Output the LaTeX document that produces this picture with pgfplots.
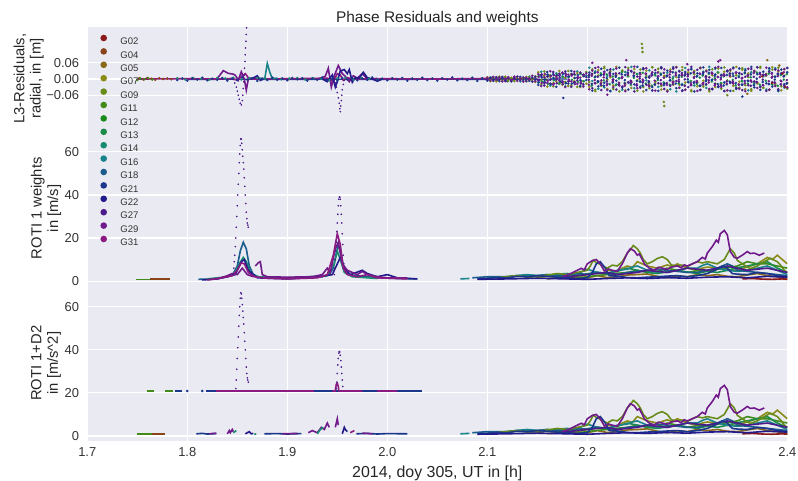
\documentclass[border=0pt]{standalone}
\usepackage{pgfplots}
\usepackage{pgfplotstable}
\pgfplotsset{compat=1.18}
\usepackage{fontspec}
\setmainfont{Liberation Sans}
\definecolor{bgc}{HTML}{EAEAF2}
\definecolor{c02}{RGB}{139,26,26}
\definecolor{c04}{RGB}{139,69,26}
\definecolor{c05}{RGB}{139,105,26}
\definecolor{c07}{RGB}{139,139,26}
\definecolor{c09}{RGB}{105,139,26}
\definecolor{c11}{RGB}{66,139,26}
\definecolor{c12}{RGB}{26,139,26}
\definecolor{c13}{RGB}{26,139,74}
\definecolor{c14}{RGB}{26,139,115}
\definecolor{c16}{RGB}{26,130,139}
\definecolor{c18}{RGB}{26,92,139}
\definecolor{c21}{RGB}{26,55,139}
\definecolor{c22}{RGB}{35,26,139}
\definecolor{c27}{RGB}{75,26,139}
\definecolor{c29}{RGB}{112,26,139}
\definecolor{c31}{RGB}{139,26,130}

\pgfplotstableread{
x p29 b21 g09 t16 o07 m27
2.100 0.004 -0.006 0.002 -0.003 0.007 -0.001
2.103 -0.005 0.003 -0.008 0.006 -0.002 0.004
2.106 0.008 -0.001 0.005 -0.007 0.003 -0.006
2.109 -0.002 0.007 -0.004 0.001 -0.009 0.005
2.112 0.006 -0.008 0.009 -0.003 0.004 -0.002
2.115 -0.009 0.002 -0.001 0.008 -0.006 0.007
2.118 0.001 -0.005 0.006 -0.004 0.009 -0.008
2.121 0.007 0.004 -0.007 0.002 -0.003 0.003
2.124 -0.004 -0.009 0.003 -0.006 0.005 -0.005
2.127 0.009 0.006 -0.005 0.007 -0.008 0.001
2.130 -0.007 -0.002 0.008 -0.001 0.002 0.009
2.133 0.003 0.008 -0.002 -0.009 0.006 -0.004
2.136 -0.010 -0.004 0.004 0.005 -0.001 0.006
2.139 0.005 0.001 -0.009 -0.002 0.008 -0.007
2.142 -0.001 -0.007 0.007 0.009 -0.005 0.002
2.145 0.012 0.005 -0.003 -0.008 0.003 -0.010
2.148 -0.008 -0.003 0.010 0.004 -0.011 0.008
2.151 0.018 -0.022 0.009 -0.013 0.025 -0.006
2.154 -0.026 0.011 -0.019 0.027 -0.004 0.015
2.157 0.007 -0.015 0.028 -0.009 0.013 -0.024
2.160 -0.014 0.026 -0.005 0.016 -0.028 0.010
2.163 0.029 -0.003 0.014 -0.024 0.008 -0.017
2.166 -0.021 0.018 -0.027 0.004 -0.015 0.026
2.169 0.011 -0.029 0.006 0.021 -0.010 -0.003
2.172 -0.005 0.013 -0.016 -0.018 0.030 0.020
2.175 0.024 -0.008 0.022 0.010 -0.021 -0.013
2.178 -0.030 0.021 -0.011 -0.027 0.005 0.028
2.181 0.016 -0.017 0.030 0.007 -0.026 -0.009
2.184 -0.009 0.030 -0.024 0.019 0.017 -0.029
2.187 0.027 -0.012 0.003 -0.015 -0.008 0.018
2.190 -0.018 0.005 -0.029 0.028 0.022 -0.005
2.193 0.005 -0.026 0.019 -0.004 -0.030 0.024
2.196 -0.028 0.016 -0.008 -0.022 0.011 -0.019
2.199 0.021 -0.004 0.026 0.013 -0.017 0.007
2.202 -0.038 0.024 -0.011 0.042 -0.029 0.015
2.205 0.031 -0.043 0.036 -0.007 0.019 -0.034
2.208 -0.016 0.009 -0.040 0.028 -0.045 0.041
2.211 0.044 -0.027 0.013 -0.036 0.033 -0.008
2.214 -0.005 0.038 -0.025 0.017 -0.012 -0.041
2.217 0.022 -0.014 0.045 -0.031 0.040 0.027
2.220 -0.041 0.033 -0.003 0.011 -0.037 -0.018
2.223 0.012 -0.045 0.029 -0.044 0.006 0.036
2.226 -0.030 0.019 -0.037 0.035 -0.024 -0.002
2.229 0.039 -0.006 0.016 -0.020 0.045 -0.039
2.232 -0.024 0.042 -0.046 0.003 -0.015 0.021
2.235 0.007 -0.032 0.032 -0.040 0.028 -0.028
2.238 -0.045 0.015 -0.019 0.026 -0.042 0.044
2.241 0.033 -0.039 0.041 -0.012 0.010 -0.013
2.244 -0.013 0.028 -0.008 0.045 -0.033 0.030
2.247 0.046 -0.020 0.024 -0.034 0.037 -0.046
2.250 -0.034 0.045 -0.043 0.019 -0.004 0.009
2.253 0.018 -0.009 0.035 -0.027 0.022 -0.032
2.256 -0.006 0.036 -0.030 0.040 -0.046 0.039
2.259 0.040 -0.041 0.011 -0.005 0.031 -0.021
2.262 -0.027 0.010 -0.034 0.032 -0.018 0.005
2.265 0.025 -0.030 0.044 -0.043 0.043 -0.042
2.268 -0.043 0.022 -0.015 0.014 -0.009 0.033
2.271 0.010 -0.044 0.038 -0.029 0.026 -0.016
2.274 -0.019 0.040 -0.026 0.044 -0.039 0.043
2.277 0.036 -0.017 0.006 -0.016 0.012 -0.037
2.280 -0.046 0.031 -0.042 0.023 -0.044 0.012
2.283 0.028 -0.005 0.027 -0.038 0.035 -0.025
2.286 -0.011 0.044 -0.009 0.008 -0.021 0.038
2.289 0.043 -0.034 0.045 -0.046 0.007 -0.007
2.292 -0.032 0.014 -0.021 0.030 -0.033 0.028
2.295 0.015 -0.042 0.033 -0.019 0.044 -0.044
2.298 -0.040 0.026 -0.039 0.041 -0.013 0.019
2.301 0.034 -0.012 0.017 -0.010 0.025 -0.030
2.304 -0.022 0.037 -0.045 0.036 -0.041 0.045
2.307 0.008 -0.046 0.030 -0.024 0.018 -0.011
2.310 -0.044 0.021 -0.012 0.012 -0.027 0.034
2.313 0.041 -0.025 0.042 -0.041 0.040 -0.040
2.316 -0.015 0.043 -0.028 0.027 -0.006 0.024
2.319 0.029 -0.003 0.009 -0.033 0.032 -0.019
2.322 -0.037 0.034 -0.041 0.045 -0.046 0.006
2.325 0.020 -0.038 0.036 -0.002 0.014 -0.036
2.328 -0.003 0.017 -0.017 0.038 -0.030 0.042
2.331 0.045 -0.029 0.023 -0.030 0.039 -0.027
2.334 -0.029 0.041 -0.036 0.016 -0.016 0.013
2.337 0.013 -0.013 0.043 -0.044 0.027 -0.045
2.340 -0.042 0.028 -0.005 0.031 -0.043 0.031
2.343 0.035 -0.044 0.031 -0.014 0.009 -0.014
2.346 -0.017 0.011 -0.044 0.043 -0.025 0.040
2.349 0.024 -0.035 0.014 -0.037 0.045 -0.033
2.352 -0.036 0.039 -0.032 0.020 -0.010 0.022
2.355 0.004 -0.021 0.040 -0.008 0.034 -0.041
2.358 -0.045 0.032 -0.023 0.037 -0.038 0.008
2.361 0.038 -0.007 0.007 -0.042 0.021 -0.023
2.364 -0.010 0.045 -0.038 0.025 -0.044 0.037
2.367 0.030 -0.031 0.028 -0.018 0.030 -0.009
2.370 -0.033 0.018 -0.014 0.044 -0.017 0.043
2.373 0.017 -0.040 0.045 -0.028 0.041 -0.030
2.376 -0.023 0.027 -0.033 0.010 -0.032 0.016
2.379 0.042 -0.016 0.019 -0.039 0.013 -0.044
2.382 -0.039 0.040 -0.040 0.033 -0.040 0.027
2.385 0.009 -0.028 0.035 -0.021 0.044 -0.012
2.388 -0.026 0.008 -0.018 0.040 -0.023 0.035
2.391 0.032 -0.043 0.042 -0.045 0.028 -0.038
2.394 -0.008 0.035 -0.027 0.022 -0.042 0.020
2.397 0.037 -0.019 0.012 -0.032 0.036 -0.025
2.400 -0.031 0.025 -0.036 0.041 -0.015 0.041
}\resid

\pgfplotstableread{
x a b c d
2.1515 0.008 -0.012 0.015 -0.004
2.1545 -0.014 0.006 -0.009 0.017
2.1575 0.019 -0.003 0.004 -0.013
2.1605 -0.006 0.016 -0.018 0.009
2.1635 0.011 -0.019 0.012 -0.001
2.1665 -0.017 0.002 -0.005 0.014
2.1695 0.003 0.013 0.018 -0.016
2.1725 0.015 -0.008 -0.013 0.006
2.1755 -0.010 0.019 0.007 -0.019
2.1785 0.018 -0.015 -0.016 0.011
2.1815 -0.002 0.009 0.010 -0.007
2.1845 0.013 -0.017 -0.003 0.018
2.1875 -0.019 0.004 0.016 -0.012
2.1905 0.007 0.015 -0.011 0.003
2.1935 -0.012 -0.006 0.019 -0.017
2.1965 0.016 0.011 -0.008 0.013
2.2015 -0.021 0.007 0.014 -0.003
2.2045 0.012 -0.018 -0.024 0.019
2.2075 -0.004 0.023 0.006 -0.015
2.2105 0.025 -0.009 -0.012 0.008
2.2135 -0.016 0.014 0.021 -0.022
2.2165 0.006 -0.025 -0.005 0.016
2.2195 -0.023 0.003 0.017 -0.009
2.2225 0.018 0.020 -0.019 0.024
2.2255 -0.008 -0.013 0.009 -0.002
2.2285 0.021 0.008 -0.023 0.012
2.2315 -0.014 -0.021 0.002 -0.020
2.2345 0.003 0.017 0.025 0.005
2.2375 -0.025 -0.004 -0.014 -0.017
2.2405 0.016 0.024 0.011 0.021
2.2435 -0.010 -0.016 -0.022 -0.006
2.2465 0.023 0.011 0.004 0.013
2.2495 -0.019 -0.007 0.018 -0.024
2.2525 0.009 0.022 -0.010 0.002
2.2555 -0.002 -0.024 0.023 -0.013
2.2585 0.020 0.005 -0.017 0.019
2.2615 -0.024 -0.012 0.007 -0.008
2.2645 0.013 0.019 -0.025 0.016
2.2675 -0.006 -0.020 0.015 -0.021
2.2705 0.024 0.002 -0.004 0.009
2.2735 -0.017 0.016 0.020 -0.004
2.2765 0.005 -0.023 -0.013 0.023
2.2795 -0.022 0.010 0.012 -0.015
2.2825 0.017 -0.005 -0.021 0.006
2.2855 -0.011 0.025 0.001 -0.019
2.2885 0.022 -0.017 0.024 0.014
2.2915 -0.003 0.006 -0.016 -0.010
2.2945 0.014 -0.022 0.008 0.022
2.2975 -0.025 0.013 -0.024 -0.001
2.3005 0.010 -0.001 0.016 0.017
2.3035 -0.015 0.021 -0.007 -0.023
2.3065 0.025 -0.014 0.022 0.004
2.3095 -0.007 0.009 -0.018 -0.012
2.3125 0.019 -0.025 0.005 0.020
2.3155 -0.020 0.018 0.013 -0.016
2.3185 0.004 -0.008 -0.022 0.010
2.3215 -0.013 0.023 0.019 -0.005
2.3245 0.021 -0.003 -0.009 0.024
2.3275 -0.024 0.012 0.003 -0.018
2.3305 0.008 -0.019 0.025 0.007
2.3335 -0.001 0.004 -0.015 -0.022
2.3365 0.018 -0.024 0.010 0.015
2.3395 -0.018 0.015 -0.020 -0.009
2.3425 0.012 -0.010 0.017 0.021
2.3455 -0.009 0.020 -0.003 -0.014
2.3485 0.024 -0.015 -0.024 0.003
2.3515 -0.021 0.007 0.011 -0.020
2.3545 0.002 -0.021 -0.008 0.018
2.3575 -0.016 0.024 0.021 -0.007
2.3605 0.015 -0.006 -0.017 0.012
2.3635 -0.005 0.017 0.006 -0.025
2.3665 0.022 -0.023 -0.012 0.008
2.3695 -0.012 0.001 0.024 -0.011
2.3725 0.007 0.019 -0.021 0.023
2.3755 -0.023 -0.011 0.014 -0.002
2.3785 0.016 0.014 -0.006 0.016
2.3815 -0.008 -0.018 0.020 -0.019
2.3845 0.020 0.022 -0.019 0.005
2.3875 -0.014 -0.002 0.009 -0.013
2.3905 0.011 0.016 -0.025 0.020
2.3935 -0.019 -0.020 0.015 -0.006
2.3965 0.025 0.010 -0.002 0.011
2.3995 -0.004 -0.016 0.018 -0.017
}\residcore

\pgfplotsset{
  panel/.style={
    scale only axis, width=700bp, anchor=south west,
    xmin=1.7, xmax=2.4,
    axis background/.style={fill=bgc},
    axis line style={draw=none},
    tick style={draw=none},
    xmajorgrids, ymajorgrids,
    grid style={white, line width=1.1bp},
    xtick={1.7,1.8,1.9,2.0,2.1,2.2,2.3,2.4},
    tick label style={font=\fontsize{13}{15}\selectfont, text=black!80},
    yticklabel style={inner sep=0pt, xshift=-8bp},
    xticklabel style={inner sep=0pt, yshift=-7bp},
    ylabel style={align=center, font=\fontsize{14.8}{16.5}\selectfont, text=black!85, anchor=center},
    clip=true,
  },
  lw/.style={line width=1.6bp, forget plot},
  dots/.style={only marks, mark=*, mark size=1.05bp, forget plot},
  dotsp/.style={only marks, mark=*, mark size=0.6bp, forget plot},
}

\newcommand{\rightlines}{
\addplot[c16,lw] coordinates {(2.073,1)(2.082,1.2)};
\addplot[c05,lw] coordinates {(2.16,1)(2.17,1.6)(2.18,1.2)(2.19,1.8)(2.20,1.5)(2.21,2.5)(2.22,1.6)(2.23,2)(2.24,2.8)(2.25,3)(2.26,3.3)(2.27,2.2)(2.28,1.5)(2.29,2.4)(2.30,2)(2.31,3)(2.32,2.5)(2.33,3)(2.34,2.2)(2.35,2)(2.36,2.8)(2.37,3.5)(2.38,2.5)(2.39,2)(2.40,1)};
\addplot[c02,lw] coordinates {(2.355,1)(2.365,1.2)(2.375,0.9)(2.385,0.8)(2.395,1)(2.40,0.8)};
\addplot[c07,lw] coordinates {(2.15,1.5)(2.16,2.2)(2.17,2)(2.18,2.5)(2.19,2.1)(2.20,3)(2.21,4)(2.215,3.4)(2.22,5)(2.23,4.5)(2.235,6)(2.24,7)(2.245,6.3)(2.25,9)(2.255,8)(2.26,7)(2.27,6)(2.28,7.5)(2.285,6.6)(2.29,8)(2.30,6)(2.31,5)(2.315,6)(2.32,6.5)(2.33,6)(2.34,5)(2.35,5)(2.355,5.8)(2.36,6.5)(2.37,8)(2.375,9.5)(2.38,11)(2.385,10)(2.39,12)(2.395,10)(2.40,8)};
\addplot[c11,lw] coordinates {(2.19,1.5)(2.20,2)(2.21,2.6)(2.22,3)(2.23,3.6)(2.24,4)(2.25,5)(2.26,4.2)(2.27,4.5)(2.28,6)(2.29,5)(2.30,4)(2.31,4.8)(2.32,4.5)(2.33,5.5)(2.34,6.2)(2.35,7)(2.355,8)(2.36,9)(2.37,8)(2.38,8)(2.39,7)(2.40,6)};
\addplot[c13,lw] coordinates {(2.13,2)(2.14,2.8)(2.15,2.5)(2.16,3)(2.17,2.2)(2.18,2.5)(2.19,2.5)(2.20,3.4)(2.21,4)(2.22,3.6)(2.23,4.5)(2.24,6)(2.25,5)(2.26,4)(2.27,3.5)(2.28,4.3)(2.29,5)(2.30,4.2)(2.31,3.5)(2.32,4.6)(2.33,4)(2.34,5)(2.35,6.2)(2.36,7)(2.37,8)(2.38,9)(2.39,6)(2.40,4)};
\addplot[c16,lw] coordinates {(2.10,1.5)(2.11,1.8)(2.12,2)(2.13,2.6)(2.14,3)(2.15,2.5)(2.16,2.5)(2.17,3.2)(2.18,3.5)(2.19,3)(2.195,4.5)(2.20,5.5)(2.21,4)(2.22,3.5)(2.23,5)(2.24,5.5)(2.245,6.5)(2.25,7)(2.26,5)(2.27,4)(2.28,4)(2.29,5)(2.30,6)(2.31,6)(2.315,7.2)(2.32,8)(2.33,6)(2.34,5)(2.35,4.5)(2.36,5)(2.37,6)(2.38,7)(2.39,5)(2.40,3)};
\addplot[c18,lw] coordinates {(2.085,1.5)(2.10,2)(2.12,2)(2.13,2.5)(2.14,2.1)(2.15,2.5)(2.16,3)(2.17,2.6)(2.18,3)(2.19,3.5)(2.20,3.1)(2.21,4)(2.22,3.5)(2.23,3)(2.24,4)(2.25,4.5)(2.26,5)(2.27,5.5)(2.28,5)(2.29,4.5)(2.30,4)(2.31,4)(2.32,5)(2.33,6)(2.34,8)(2.345,7)(2.35,5)(2.36,4.5)(2.37,4)(2.38,3.5)(2.39,3)(2.40,2.5)};
\addplot[c09,lw] coordinates {(2.11,1.5)(2.12,2.1)(2.13,2.5)(2.14,1.8)(2.15,2)(2.16,2.8)(2.17,3.5)(2.18,3)(2.19,4)(2.20,5)(2.203,7)(2.206,9.7)(2.209,8.6)(2.212,8)(2.216,6.8)(2.22,6)(2.225,7.4)(2.23,7)(2.235,9)(2.24,13)(2.243,14.5)(2.246,16.5)(2.25,15)(2.253,13)(2.256,10)(2.26,8)(2.265,9)(2.27,10.5)(2.275,11.3)(2.28,10)(2.284,7.5)(2.29,7)(2.295,7.4)(2.30,6.7)(2.305,8)(2.31,9)(2.315,8.4)(2.32,9)(2.325,8.5)(2.33,8)(2.337,10)(2.34,12.5)(2.343,15)(2.347,13)(2.35,9.6)(2.355,8)(2.36,6.5)(2.363,5.8)(2.37,7)(2.377,9)(2.383,10.6)(2.39,9)(2.394,7)(2.397,5)(2.40,4)};
\addplot[c27,lw] coordinates {(2.17,1.5)(2.18,2)(2.19,2.5)(2.20,3)(2.21,3.5)(2.22,4)(2.23,3)(2.24,3.5)(2.25,4)(2.26,5)(2.27,4.5)(2.28,4)(2.29,5)(2.30,6)(2.31,5.5)(2.32,5)(2.33,6)(2.34,7)(2.35,6)(2.36,5)(2.37,5.5)(2.38,6)(2.39,5)(2.40,4)};
\addplot[c21,lw] coordinates {(2.09,1)(2.10,1.2)(2.11,1.6)(2.12,1.5)(2.13,2.2)(2.14,2)(2.15,2.5)(2.16,2.2)(2.17,1.8)(2.18,1.5)(2.19,1.2)(2.20,1.5)(2.205,4)(2.209,8)(2.213,9)(2.218,6)(2.222,2.5)(2.23,2.3)(2.235,2)(2.24,1.6)(2.25,1.5)(2.26,1.8)(2.27,2)(2.28,2.3)(2.29,2.5)(2.30,2)(2.31,2.5)(2.32,3.5)(2.33,5.5)(2.335,7)(2.34,6)(2.345,3.5)(2.35,3.2)(2.36,3)(2.37,4)(2.38,3.5)(2.39,2.5)(2.40,2)};
\addplot[c22,lw] coordinates {(2.09,0.8)(2.12,1)(2.15,1.3)(2.18,1)(2.20,0.8)(2.22,1.2)(2.24,1.5)(2.26,1.2)(2.28,1.6)(2.30,1.3)(2.32,1.8)(2.34,2)(2.36,1.5)(2.38,2.2)(2.40,1.8)};
\addplot[c29,lw] coordinates {(2.175,2)(2.18,2.8)(2.184,3.6)(2.19,5)(2.194,5.9)(2.197,5.2)(2.20,8)(2.205,9.5)(2.209,10)(2.213,8)(2.217,4.7)(2.221,5.6)(2.225,5)(2.230,4.5)(2.235,8)(2.240,13)(2.243,15)(2.247,14)(2.25,12)(2.252,12.6)(2.255,10)(2.257,8)(2.262,6)(2.267,5)(2.271,6.4)(2.275,6)(2.28,5.4)(2.284,6.5)(2.29,7)(2.294,6.2)(2.297,7.5)(2.30,7)(2.305,8)(2.31,9)(2.315,11)(2.318,10.2)(2.32,13)(2.325,16)(2.329,19)(2.331,18)(2.333,22)(2.337,23.5)(2.340,21.5)(2.343,13.7)(2.347,11)(2.35,10.6)(2.355,12)(2.36,13.7)(2.363,12.8)(2.367,13)(2.372,12)(2.377,13)};
}

\begin{document}
\begin{tikzpicture}
\useasboundingbox (0,0) rectangle (798bp,481bp);

% ---------------- bottom panel ----------------
\begin{axis}[panel, at={(87.3bp,40.3bp)}, height=155bp,
  ymin=-2.2, ymax=69.8,
  ytick={0,20,40,60}, yticklabels={0,20,40,60},
  xticklabels={1.7,1.8,1.9,2.0,2.1,2.2,2.3,2.4},
  ylabel={ROTI 1+D2\\in [m/s\^{}2]},
  ylabel style={at={(axis description cs:-0.059,0.5)}},
  xlabel={2014, doy 305, UT in [h]},
  xlabel style={font=\fontsize{16}{18}\selectfont, text=black!85, anchor=base, at={(axis description cs:0.5,0)}, yshift=-37bp},
]
\addplot[c11,lw] coordinates {(1.750,0.8)(1.765,0.8)};
\addplot[c04,lw] coordinates {(1.765,0.9)(1.778,0.9)};
\addplot[c21,lw] coordinates {(1.809,1)(1.815,1.2)(1.820,0.9)(1.829,1.1)};
\addplot[c29,lw] coordinates {(1.822,1)(1.829,1.3)};
\addplot[c29,lw] coordinates {(1.840,1)(1.842,2.5)(1.843,1.5)(1.845,3)(1.846,2)};
\addplot[c14,lw] coordinates {(1.846,1.5)(1.849,2.5)};
\addplot[c22,lw] coordinates {(1.858,1)(1.862,2)(1.864,1)(1.866,1.2)};
\addplot[c14,lw] coordinates {(1.867,1)(1.869,0.8)};
\addplot[c21,lw] coordinates {(1.877,1)(1.890,1.1)(1.900,0.9)(1.914,1.1)};
\addplot[c29,lw] coordinates {(1.895,1)(1.910,1.2)};
\addplot[c29,lw] coordinates {(1.921,1.5)(1.925,2.5)(1.930,1.5)(1.934,4)(1.937,3)(1.940,6)(1.942,4)};
\addplot[c14,lw] coordinates {(1.930,1)(1.933,3)(1.936,4)};
\addplot[c29,lw] coordinates {(1.948,4)(1.950,8)(1.951,5)};
\addplot[c22,lw] coordinates {(1.955,1)(1.957,4)(1.958,3)(1.960,2)};
\addplot[c31,lw] coordinates {(1.963,1.5)(1.967,2.5)};
\addplot[c21,lw] coordinates {(1.969,1)(1.980,1.2)(1.990,0.9)(2.000,1.1)(2.020,1)};
\addplot[c29,lw] coordinates {(1.975,1.3)(1.985,1)};
\addplot[c11,lw] coordinates {(1.7594,20.9)(1.7667,20.9)};
\addplot[c11,lw] coordinates {(1.7777,20.9)(1.7854,20.9)};
\addplot[c21,lw] coordinates {(1.7877,20.9)(1.7944,20.9)};
\addplot[c21,dots] coordinates {(1.800,20.9)(1.815,20.9)};
\addplot[c21,lw] coordinates {(1.819,20.9)(2.035,20.9)};
\addplot[c31,lw] coordinates {(1.829,20.9)(1.927,20.9)};
\addplot[c31,lw] coordinates {(1.945,20.9)(1.948,20.9)(1.9485,22.5)(1.949,24)(1.950,24.5)(1.951,23)(1.9515,21)(1.952,20.9)(1.975,20.9)};
\addplot[c31,lw] coordinates {(1.990,20.9)(2.010,20.9)};
\addplot[c27,dotsp] coordinates {(1.8485,22)(1.849,26)(1.8495,31)(1.850,36)(1.8505,41)(1.851,46)(1.8515,51)(1.852,56)(1.8525,60)(1.853,64)(1.8535,66.5)(1.854,66)(1.8545,64)(1.855,61)(1.8555,58)(1.856,55)(1.8565,52)(1.857,48)(1.8575,44)(1.858,40)(1.8585,36)(1.859,32)(1.8595,29)(1.860,27)(1.8605,26)(1.861,25)};
\addplot[c27,dotsp] coordinates {(1.949,22)(1.9495,25)(1.950,29)(1.9505,33)(1.951,36)(1.9515,38.5)(1.952,39.2)(1.9525,39)(1.953,37.5)(1.9535,35)(1.954,32)(1.9545,29)(1.955,26)(1.9555,23)};
\rightlines
\end{axis}

% ---------------- middle panel ----------------
\begin{axis}[panel, at={(87.3bp,195.2bp)}, height=155bp,
  ymin=-2.2, ymax=69.8,
  ytick={0,20,40,60}, yticklabels={0,20,40,60},
  xticklabels={,,,,,,,},
  ylabel={ROTI 1 weights\\in [m/s]},
  ylabel style={at={(axis description cs:-0.059,0.5)}},
]
\addplot[c11,lw] coordinates {(1.749,0.8)(1.763,0.8)};
\addplot[c04,lw] coordinates {(1.763,0.9)(1.783,0.9)};
\addplot[c18,lw] coordinates {(1.811,0.8)(1.825,1.0)(1.835,1.5)(1.842,2.5)(1.846,3.5)(1.850,7)(1.853,14)(1.856,18)(1.859,15)(1.862,7)(1.866,3)(1.872,1.8)(1.885,1.5)(1.900,1.2)(1.920,1.5)(1.935,2)(1.942,3)(1.946,6)(1.949,13)(1.951,17)(1.954,12)(1.957,5)(1.962,3)(1.970,2.5)(1.980,2)(1.990,1.5)(2.010,1.2)(2.030,1)};
\addplot[c14,lw] coordinates {(1.820,1)(1.840,2)(1.848,4)(1.852,8)(1.856,11)(1.859,9)(1.863,4)(1.870,2)(1.900,1.5)(1.940,2.5)(1.947,8)(1.950,14)(1.953,10)(1.957,4)(1.965,2)(1.990,1.2)};
\addplot[c22,lw] coordinates {(1.815,0.5)(1.830,1)(1.840,2)(1.848,3)(1.850,5)(1.854,9)(1.857,10)(1.861,5)(1.870,1.5)(1.900,1)(1.930,1.8)(1.945,3)(1.950,8)(1.953,11)(1.957,6)(1.963,3)(1.975,5)(1.980,3.5)(1.990,2)(2.000,3)(2.010,1.5)(2.030,1)};
\addplot[c29,lw] coordinates {(1.830,1)(1.840,2.5)(1.845,3.5)(1.850,3)(1.855,6)(1.860,3)(1.866,2)};
\addplot[c29,lw] coordinates {(1.868,7)(1.871,8.5)(1.873,9)(1.875,3)(1.880,2)(1.900,1.8)(1.925,2)(1.935,3)(1.940,6)(1.943,4)(1.948,15)(1.951,18)(1.955,8)(1.960,5)(1.965,4)(1.970,3)(1.975,4.5)(1.980,3)(1.990,2)(2.000,1.5)(2.020,1.5)};
\addplot[c31,lw] coordinates {(1.820,0.5)(1.835,1.5)(1.845,2.5)(1.850,5)(1.854,8.5)(1.857,8)(1.861,4)(1.867,2)(1.880,1.3)(1.900,1)(1.930,1.5)(1.940,3)(1.946,12)(1.950,22)(1.953,17)(1.956,6)(1.960,3)(1.970,2)(1.980,3)(1.990,1.5)(2.020,1)};
\addplot[c27,dotsp] coordinates {(1.8455,3)(1.8465,6)(1.847,9)(1.8475,12)(1.848,16)(1.8485,20)(1.849,25)(1.8495,30)(1.850,35)(1.8505,40)(1.851,45)(1.8515,50)(1.852,55)(1.8525,59)(1.853,63)(1.8535,66)(1.854,66)(1.8545,64)(1.855,61)(1.8555,58)(1.856,55)(1.8565,52)(1.857,48)(1.8575,44)(1.858,40)(1.8585,36)(1.859,32)(1.8595,29)(1.860,27)(1.8605,26)(1.861,25)};
\addplot[c27,dotsp] coordinates {(1.947,3)(1.9475,6)(1.948,10)(1.9485,14)(1.949,18)(1.9495,23)(1.950,27)(1.9505,31)(1.951,35)(1.9515,38)(1.952,39)(1.9525,39)(1.953,38)(1.9535,35)(1.954,31)(1.9545,27)(1.955,22)(1.9555,17)(1.956,12)(1.9565,8)};
\rightlines
\end{axis}

% ---------------- top panel ----------------
\begin{axis}[panel, at={(87.3bp,350.2bp)}, height=104.1bp,
  ymin=-0.192, ymax=0.194,
  ytick={-0.06,0,0.06}, yticklabels={−0.06,0.00,0.06},
  xticklabels={,,,,,,,},
  ylabel={L3-Residuals,\\radial, in [m]},
  ylabel style={at={(axis description cs:-0.0837,0.5)}},
  title={Phase Residuals and weights},
  title style={font=\fontsize{15.5}{17}\selectfont, text=black!85, at={(0.5,1)}, anchor=base, yshift=-1.3bp},
  legend style={at={(axis description cs:0.0186,0.923)}, anchor=north west, draw=none, fill=none,
    inner sep=0pt, outer sep=0pt, row sep=3.5bp,
    font=\fontsize{9.6}{10}\selectfont, text=black!80,
    nodes={inner sep=0pt, text height=6.6bp, text depth=0pt}},
  legend cell align=left,
  legend image code/.code={\path[draw=none] (0bp,0bp) rectangle (20bp,0bp); \fill[#1, draw=none] (3.4bp,3.3bp) circle (3.3bp);},
]
\addplot[c04,dots] coordinates {(1.752,0.003)(1.756,-0.002)(1.760,0.004)(1.764,0.001)(1.768,-0.003)(1.772,0.003)(1.776,0.000)(1.780,0.002)(1.784,-0.001)};
\addplot[c11,dots] coordinates {(1.750,-0.004)(1.753,0.002)(1.757,-0.001)(1.761,0.003)(1.765,-0.002)};
\addplot[c14,dots] coordinates {(1.790,0.003)(1.798,-0.002)(1.806,0.004)(1.814,0.001)(1.822,-0.003)(1.830,0.004)(1.838,0.002)(1.846,0.005)(1.854,-0.002)(1.862,0.003)(1.870,0.004)(1.878,0.002)(1.886,0.003)(1.894,-0.001)(1.902,0.002)(1.910,0.004)(1.918,-0.002)(1.926,0.003)(1.934,0.001)(1.942,-0.004)(1.950,0.002)(1.958,0.004)(1.966,-0.002)(1.974,0.003)(1.982,0.001)(1.990,-0.002)};
\addplot[c21,dots] coordinates {(1.790,-0.004)(1.795,0.002)(1.800,-0.006)(1.805,0.003)(1.810,-0.002)(1.815,0.005)(1.820,-0.005)(1.825,0.001)(1.830,-0.003)(1.835,0.004)(1.840,-0.006)(1.845,0.002)(1.850,-0.004)(1.855,0.006)(1.860,-0.002)(1.865,0.003)(1.870,-0.007)(1.875,0.001)(1.880,-0.004)(1.885,0.005)(1.890,-0.003)(1.895,0.002)(1.900,-0.005)(1.905,0.004)(1.910,-0.001)(1.915,0.003)(1.920,-0.006)(1.925,0.002)(1.930,-0.003)(1.935,0.005)(1.940,-0.004)(1.945,0.001)(1.950,-0.006)(1.955,0.004)(1.960,-0.002)(1.965,0.003)(1.970,-0.005)(1.975,0.002)(1.980,-0.003)(1.985,0.006)(1.990,-0.004)(1.995,0.001)(2.000,-0.005)(2.005,0.003)(2.010,-0.002)(2.015,0.004)(2.020,-0.006)(2.025,0.002)(2.030,-0.003)(2.035,0.005)(2.040,-0.004)(2.045,0.002)(2.050,-0.006)(2.055,0.003)(2.060,-0.002)(2.065,0.006)(2.070,-0.005)(2.075,0.001)(2.080,-0.004)(2.085,0.005)(2.090,-0.007)(2.095,0.003)(2.100,-0.004)(2.105,0.006)(2.110,-0.003)(2.115,0.004)(2.120,-0.008)};
\addplot[c21,line width=1.2bp,forget plot] coordinates {(1.80,-0.002)(1.85,-0.001)(1.90,-0.002)(1.95,-0.001)(2.00,-0.002)(2.05,-0.001)(2.10,-0.002)(2.18,0.000)};
\addplot[c31,lw] coordinates {(1.750,0)(1.800,0.001)(1.830,0)(1.845,0.002)(1.850,-0.005)(1.855,0.012)(1.858,0.020)(1.861,0.005)(1.865,0)(1.900,0.001)(1.940,0.003)(1.946,-0.010)(1.950,0.020)(1.953,0.015)(1.956,-0.005)(1.960,0.005)(1.965,0)(2.000,0.001)(2.050,0)(2.100,0.002)(2.150,0)};
\addplot[c29,lw] coordinates {(1.830,0.002)(1.836,0.031)(1.841,0.021)(1.846,0.018)(1.848,0.014)(1.851,-0.004)(1.854,0.027)(1.857,0.0)(1.859,-0.041)(1.861,0.0)(1.866,0.003)(1.875,0.001)};
\addplot[c29,lw] coordinates {(1.930,0)(1.938,0.010)(1.941,0.040)(1.944,-0.030)(1.947,0.012)(1.951,0.050)(1.955,0.020)(1.958,0.010)(1.962,-0.010)(1.966,0.012)(1.970,0.003)(1.975,0.020)(1.980,0.0)(1.990,0.002)};
\addplot[c22,lw] coordinates {(1.935,0)(1.940,-0.010)(1.945,0.015)(1.948,-0.030)(1.950,-0.010)(1.953,0.030)(1.957,0.035)(1.960,0.020)(1.962,0.035)(1.965,-0.012)(1.968,0.005)(1.972,0.003)(1.976,0.025)(1.980,0.005)(1.985,0)(1.990,-0.008)(1.995,0)};
\addplot[c22,lw] coordinates {(1.862,0)(1.866,0.004)(1.870,0.012)(1.873,-0.005)(1.876,0.0)};
\addplot[c16,lw] coordinates {(1.8720,0.003)(1.8775,0.002)(1.8800,0.058)(1.8825,0.025)(1.8850,0.002)(1.890,0.003)};
\addplot[c27,dotsp] coordinates {(1.846,-0.002)(1.8475,-0.015)(1.849,-0.030)(1.850,-0.045)(1.851,-0.060)(1.852,-0.075)(1.853,-0.090)(1.854,-0.096)(1.855,-0.080)(1.8555,-0.060)(1.856,-0.035)(1.8565,-0.010)(1.857,0.015)(1.8573,0.040)(1.8576,0.065)(1.858,0.090)(1.8583,0.115)(1.8586,0.140)(1.859,0.165)(1.8593,0.190)(1.8596,0.215)};
\addplot[c27,dotsp] coordinates {(1.947,0.0)(1.948,-0.015)(1.949,-0.030)(1.950,-0.050)(1.951,-0.070)(1.952,-0.090)(1.9525,-0.110)(1.953,-0.121)(1.9535,-0.100)(1.954,-0.080)(1.9545,-0.060)(1.955,-0.040)(1.956,-0.020)(1.957,-0.005)};
\addplot[c16,dots] table[x=x,y=t16] {\resid};
\addplot[c07,dots] table[x=x,y=o07] {\resid};
\addplot[c09,dots] table[x=x,y=g09] {\resid};
\addplot[c13,dots] table[x=x,y=c] {\residcore};
\addplot[c21,dots] table[x=x,y=b21] {\resid};
\addplot[c27,dots] table[x=x,y=m27] {\resid};
\addplot[c27,dots] table[x=x,y=d] {\residcore};
\addplot[c21,dots] table[x=x,y=b] {\residcore};
\addplot[c29,dots] table[x=x,y=p29] {\resid};
\addplot[c29,dots] table[x=x,y=a] {\residcore};
\addplot[c09,dots] coordinates {(2.2545,0.130)(2.2550,0.115)(2.2552,0.100)(2.2770,-0.100)(2.2765,-0.085)(2.340,-0.060)};
\addplot[c29,dots] coordinates {(2.205,0.060)(2.239,0.070)(2.300,0.055)(2.331,0.065)(2.333,0.070)(2.220,-0.058)};
\addplot[c05,dots] coordinates {(2.380,0.070)(2.360,-0.055)(2.392,0.050)};
\addplot[c02,dots] coordinates {(2.375,0.010)(2.385,-0.015)(2.395,0.020)(2.398,-0.030)};
\addplot[c21,dots] coordinates {(2.355,-0.065)(2.176,-0.070)};
\addlegendimage{color=c02}\addlegendentry{G02}
\addlegendimage{color=c04}\addlegendentry{G04}
\addlegendimage{color=c05}\addlegendentry{G05}
\addlegendimage{color=c07}\addlegendentry{G07}
\addlegendimage{color=c09}\addlegendentry{G09}
\addlegendimage{color=c11}\addlegendentry{G11}
\addlegendimage{color=c12}\addlegendentry{G12}
\addlegendimage{color=c13}\addlegendentry{G13}
\addlegendimage{color=c14}\addlegendentry{G14}
\addlegendimage{color=c16}\addlegendentry{G16}
\addlegendimage{color=c18}\addlegendentry{G18}
\addlegendimage{color=c21}\addlegendentry{G21}
\addlegendimage{color=c22}\addlegendentry{G22}
\addlegendimage{color=c27}\addlegendentry{G27}
\addlegendimage{color=c29}\addlegendentry{G29}
\addlegendimage{color=c31}\addlegendentry{G31}
\end{axis}
\end{tikzpicture}
\end{document}
